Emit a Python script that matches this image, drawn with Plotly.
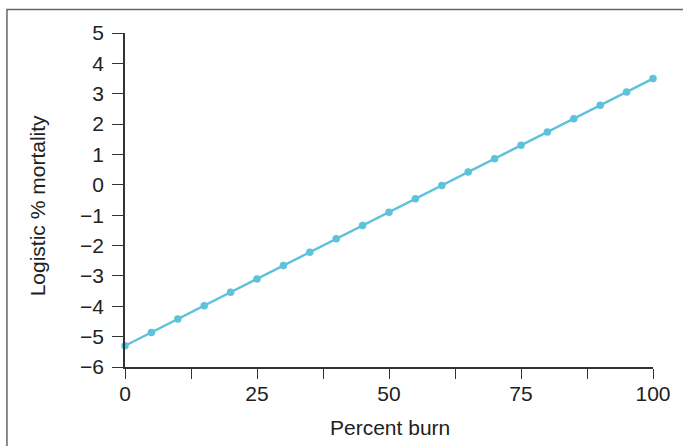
import plotly.graph_objects as go

percent_burn = [0, 5, 10, 15, 20, 25, 30, 35, 40, 45, 50, 55, 60, 65, 70, 75, 80, 85, 90, 95, 100]
logistic_mortality = [-5.3, -4.86, -4.42, -3.98, -3.54, -3.1, -2.66, -2.22, -1.78, -1.34, -0.9,
                      -0.46, -0.02, 0.42, 0.86, 1.3, 1.74, 2.18, 2.62, 3.06, 3.5]
x_ticks = [0, 25, 50, 75, 100]
y_ticks = [5, 4, 3, 2, 1, 0, -1, -2, -3, -4, -5, -6]
y_labels = [str(v).replace("-", "\u2212") for v in y_ticks]

color = "#5ec2db"
font = "Liberation Sans, Arial, Helvetica, sans-serif"
txt = "#222"

fig = go.Figure()
fig.add_trace(go.Scatter(
    x=percent_burn, y=logistic_mortality, mode="lines+markers",
    line=dict(color=color, width=2.4),
    marker=dict(color=color, size=7.5),
    cliponaxis=False, showlegend=False,
))

fig.update_layout(
    width=683, height=446,
    margin=dict(l=125, r=28, t=33, b=79),
    paper_bgcolor="white", plot_bgcolor="white",
    font=dict(family=font, color=txt, size=21),
    xaxis=dict(
        range=[0, 100], tickvals=x_ticks, ticktext=[str(v) for v in x_ticks],
        showgrid=False, zeroline=False, showline=True, linecolor="#333", linewidth=1.5,
        ticks="outside", ticklen=10, tickcolor="#333", tickwidth=1.2,
        minor=dict(dtick=12.5, tick0=0, ticks="outside", ticklen=10, tickcolor="#333", tickwidth=1.2, showgrid=False),
        tickfont=dict(size=21, color=txt), ticklabelstandoff=-3,
    ),
    yaxis=dict(
        range=[-6, 5], tickvals=y_ticks, ticktext=y_labels,
        showgrid=False, zeroline=False, showline=True, linecolor="#333", linewidth=1.5,
        ticks="outside", ticklen=11, tickcolor="#333", tickwidth=1.2,
        tickfont=dict(size=21, color=txt), ticklabelstandoff=4,
    ),
    annotations=[
        dict(
            text="Logistic % mortality", xref="paper", yref="paper",
            x=(37 - 125) / 530, y=(367 - 206) / 334, xanchor="center", yanchor="middle",
            textangle=-90, showarrow=False, font=dict(size=21, color=txt),
        ),
        dict(
            text="Percent burn", xref="paper", yref="paper",
            x=(391 - 125) / 530, y=(367 - 427) / 334, xanchor="center", yanchor="middle",
            showarrow=False, font=dict(size=21, color=txt),
        ),
    ],
    shapes=[dict(
        type="rect", xref="paper", yref="paper",
        x0=(6.5 - 125) / 530, x1=1.2, y0=-0.4, y1=(367 - 9.5) / 334,
        line=dict(color="#666", width=1.5), fillcolor="rgba(0,0,0,0)", layer="below",
    )],
)

fig.write_html("out.html")
